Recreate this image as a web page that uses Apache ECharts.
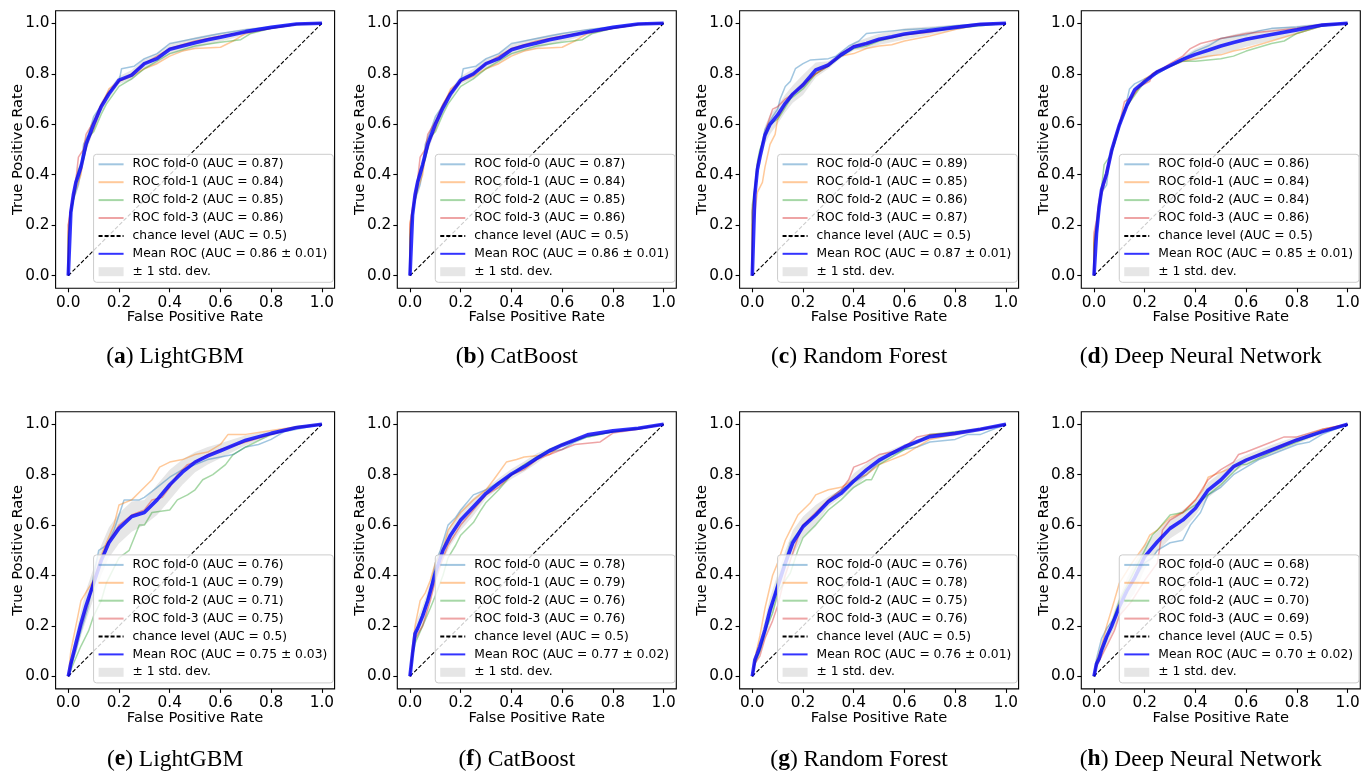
<!DOCTYPE html>
<html>
<head>
<meta charset="utf-8">
<script src="https://cdn.jsdelivr.net/npm/echarts/dist/echarts.min.js"></script>
<style>html,body{margin:0;padding:0;background:#fff}#c{width:1370px;height:774px}</style>
</head>
<body>
<div id="c"></div>
<script>
// ---------------- data ----------------
const TICKS = [0, 0.2, 0.4, 0.6, 0.8, 1.0];
const MODELS = ['LightGBM', 'CatBoost', 'Random Forest', 'Deep Neural Network'];
const LETTERS = ['a', 'b', 'c', 'd', 'e', 'f', 'g', 'h'];
const CHANCE_NAME = 'chance level (AUC = 0.5)';
const STD_NAME = '\u00B1 1 std. dev.';
const CHANCE_LINE = [[0, 0], [1, 1]];
const MEAN_FPR = [0, 0.01, 0.02, 0.03, 0.05, 0.07, 0.1, 0.13, 0.16, 0.2, 0.25, 0.3, 0.35, 0.4, 0.45, 0.5, 0.55, 0.6, 0.7, 0.8, 0.9, 1.0];

// (a) LightGBM
const aucA = ['0.87', '0.84', '0.85', '0.86']; const meanAucA = ['0.86', '0.01'];
const foldA0 = [[0,0],[0,0.17],[0.01,0.24],[0.02,0.3],[0.04,0.36],[0.05,0.42],[0.06,0.52],[0.08,0.56],[0.1,0.63],[0.12,0.66],[0.15,0.71],[0.2,0.77],[0.21,0.82],[0.26,0.83],[0.3,0.86],[0.35,0.88],[0.4,0.92],[0.5,0.94],[0.6,0.96],[0.7,0.975],[0.8,0.985],[0.9,0.998],[1,1]];
const foldA1 = [[0,0],[0,0.2],[0.01,0.26],[0.03,0.34],[0.05,0.4],[0.06,0.47],[0.08,0.54],[0.1,0.58],[0.13,0.67],[0.16,0.74],[0.2,0.77],[0.25,0.79],[0.3,0.82],[0.35,0.84],[0.4,0.87],[0.45,0.89],[0.5,0.9],[0.6,0.905],[0.65,0.93],[0.7,0.96],[0.8,0.98],[0.9,0.995],[1,1]];
const foldA2 = [[0,0],[0,0.15],[0.01,0.25],[0.03,0.35],[0.04,0.42],[0.06,0.46],[0.08,0.55],[0.1,0.57],[0.13,0.64],[0.15,0.68],[0.2,0.75],[0.25,0.78],[0.3,0.82],[0.35,0.85],[0.4,0.88],[0.5,0.91],[0.6,0.925],[0.68,0.935],[0.72,0.96],[0.8,0.98],[0.9,0.995],[1,1]];
const foldA3 = [[0,0],[0,0.2],[0.01,0.27],[0.03,0.38],[0.04,0.47],[0.06,0.5],[0.07,0.56],[0.1,0.61],[0.13,0.68],[0.16,0.73],[0.2,0.77],[0.25,0.8],[0.3,0.84],[0.35,0.87],[0.4,0.9],[0.5,0.93],[0.6,0.95],[0.7,0.965],[0.8,0.98],[0.87,0.99],[0.9,0.998],[1,1]];
const meanA = [0, 0.25, 0.32, 0.37, 0.43, 0.52, 0.60, 0.67, 0.72, 0.775, 0.795, 0.84, 0.86, 0.897, 0.91, 0.923, 0.935, 0.945, 0.967, 0.984, 0.997, 1];
const stdA = [0, 0.03, 0.03, 0.03, 0.03, 0.03, 0.025, 0.02, 0.02, 0.015, 0.02, 0.02, 0.02, 0.022, 0.022, 0.022, 0.02, 0.018, 0.012, 0.006, 0.003, 0];

// (b) CatBoost
const aucB = ['0.87', '0.84', '0.85', '0.86']; const meanAucB = ['0.86', '0.01'];
const foldB0 = [[0,0],[0,0.18],[0.01,0.24],[0.02,0.3],[0.04,0.36],[0.05,0.42],[0.06,0.52],[0.08,0.57],[0.1,0.63],[0.12,0.66],[0.15,0.71],[0.2,0.77],[0.21,0.82],[0.26,0.83],[0.3,0.86],[0.35,0.88],[0.4,0.92],[0.5,0.94],[0.6,0.96],[0.7,0.975],[0.8,0.985],[0.9,0.998],[1,1]];
const foldB1 = [[0,0],[0,0.21],[0.01,0.26],[0.03,0.34],[0.05,0.4],[0.06,0.47],[0.08,0.54],[0.1,0.58],[0.13,0.67],[0.16,0.74],[0.2,0.77],[0.25,0.79],[0.3,0.82],[0.35,0.84],[0.4,0.87],[0.45,0.89],[0.5,0.9],[0.6,0.905],[0.65,0.93],[0.7,0.96],[0.8,0.98],[0.9,0.995],[1,1]];
const foldB2 = [[0,0],[0,0.15],[0.01,0.25],[0.03,0.35],[0.04,0.42],[0.06,0.46],[0.08,0.55],[0.1,0.57],[0.13,0.64],[0.15,0.68],[0.2,0.75],[0.25,0.78],[0.3,0.82],[0.35,0.85],[0.4,0.88],[0.5,0.91],[0.6,0.925],[0.68,0.935],[0.72,0.96],[0.8,0.98],[0.9,0.995],[1,1]];
const foldB3 = [[0,0],[0,0.2],[0.01,0.27],[0.03,0.38],[0.04,0.47],[0.06,0.5],[0.07,0.56],[0.1,0.61],[0.13,0.68],[0.16,0.73],[0.2,0.77],[0.25,0.8],[0.3,0.84],[0.35,0.87],[0.4,0.9],[0.5,0.93],[0.6,0.95],[0.7,0.965],[0.8,0.98],[0.87,0.99],[0.9,0.998],[1,1]];
const meanB = [0, 0.24, 0.32, 0.37, 0.44, 0.52, 0.60, 0.665, 0.72, 0.775, 0.80, 0.84, 0.86, 0.895, 0.91, 0.922, 0.935, 0.945, 0.966, 0.984, 0.997, 1];
const stdB = [0, 0.03, 0.03, 0.03, 0.03, 0.03, 0.025, 0.02, 0.02, 0.015, 0.02, 0.02, 0.02, 0.022, 0.022, 0.022, 0.02, 0.018, 0.012, 0.006, 0.003, 0];

// (c) Random Forest
const aucC = ['0.89', '0.85', '0.86', '0.87']; const meanAucC = ['0.87', '0.01'];
const foldC0 = [[0,0],[0,0.25],[0.01,0.33],[0.02,0.42],[0.03,0.48],[0.05,0.58],[0.08,0.63],[0.1,0.66],[0.11,0.7],[0.13,0.75],[0.15,0.77],[0.17,0.82],[0.2,0.84],[0.23,0.855],[0.3,0.86],[0.33,0.87],[0.38,0.91],[0.42,0.93],[0.45,0.96],[0.5,0.965],[0.6,0.975],[0.7,0.98],[0.8,0.99],[0.9,0.998],[1,1]];
const foldC1 = [[0,0],[0,0.2],[0.01,0.25],[0.02,0.33],[0.04,0.37],[0.05,0.43],[0.07,0.52],[0.09,0.56],[0.1,0.62],[0.13,0.68],[0.16,0.72],[0.2,0.75],[0.25,0.8],[0.3,0.84],[0.35,0.87],[0.4,0.88],[0.45,0.9],[0.5,0.91],[0.55,0.915],[0.6,0.93],[0.7,0.95],[0.8,0.975],[0.9,0.995],[1,1]];
const foldC2 = [[0,0],[0,0.28],[0.01,0.35],[0.02,0.45],[0.03,0.5],[0.05,0.55],[0.07,0.6],[0.1,0.62],[0.12,0.65],[0.15,0.7],[0.2,0.74],[0.25,0.8],[0.3,0.83],[0.35,0.87],[0.4,0.9],[0.45,0.91],[0.5,0.93],[0.6,0.955],[0.7,0.97],[0.8,0.98],[0.9,0.99],[1,1]];
const foldC3 = [[0,0],[0,0.26],[0.01,0.34],[0.02,0.44],[0.04,0.52],[0.06,0.6],[0.08,0.66],[0.1,0.67],[0.13,0.7],[0.16,0.72],[0.2,0.76],[0.25,0.8],[0.3,0.83],[0.35,0.88],[0.4,0.91],[0.45,0.92],[0.5,0.935],[0.6,0.955],[0.7,0.965],[0.8,0.985],[0.9,0.997],[1,1]];
const meanC = [0, 0.32, 0.42, 0.47, 0.557, 0.60, 0.637, 0.683, 0.72, 0.756, 0.815, 0.835, 0.875, 0.907, 0.92, 0.937, 0.947, 0.958, 0.971, 0.984, 0.996, 1];
const stdC = [0, 0.035, 0.035, 0.035, 0.035, 0.04, 0.035, 0.035, 0.035, 0.04, 0.03, 0.015, 0.012, 0.015, 0.022, 0.022, 0.022, 0.022, 0.016, 0.01, 0.005, 0];

// (d) Deep Neural Network
const aucD = ['0.86', '0.84', '0.84', '0.86']; const meanAucD = ['0.85', '0.01'];
const foldD0 = [[0,0],[0,0.12],[0.01,0.17],[0.02,0.25],[0.03,0.33],[0.05,0.36],[0.06,0.45],[0.08,0.52],[0.1,0.6],[0.12,0.65],[0.14,0.74],[0.16,0.76],[0.2,0.78],[0.25,0.8],[0.3,0.83],[0.35,0.86],[0.4,0.89],[0.45,0.91],[0.5,0.94],[0.6,0.955],[0.65,0.97],[0.7,0.98],[0.8,0.985],[0.9,0.995],[1,1]];
const foldD1 = [[0,0],[0,0.15],[0.01,0.2],[0.02,0.28],[0.04,0.36],[0.06,0.44],[0.08,0.53],[0.1,0.6],[0.13,0.67],[0.16,0.72],[0.2,0.78],[0.25,0.81],[0.3,0.83],[0.35,0.85],[0.4,0.86],[0.45,0.87],[0.5,0.875],[0.55,0.89],[0.6,0.9],[0.7,0.93],[0.8,0.96],[0.9,0.99],[1,1]];
const foldD2 = [[0,0],[0,0.13],[0.01,0.19],[0.02,0.28],[0.03,0.35],[0.04,0.44],[0.06,0.47],[0.08,0.52],[0.1,0.59],[0.12,0.66],[0.15,0.7],[0.2,0.77],[0.25,0.81],[0.3,0.83],[0.35,0.85],[0.4,0.85],[0.45,0.855],[0.5,0.86],[0.55,0.87],[0.6,0.89],[0.7,0.92],[0.75,0.93],[0.8,0.96],[0.9,0.99],[1,1]];
const foldD3 = [[0,0],[0,0.17],[0.01,0.22],[0.02,0.3],[0.04,0.38],[0.06,0.46],[0.08,0.54],[0.1,0.6],[0.12,0.69],[0.15,0.71],[0.18,0.75],[0.22,0.77],[0.23,0.8],[0.27,0.82],[0.3,0.84],[0.35,0.87],[0.38,0.9],[0.42,0.92],[0.5,0.94],[0.6,0.96],[0.7,0.97],[0.8,0.98],[0.9,0.995],[1,1]];
const meanD = [0, 0.168, 0.27, 0.34, 0.405, 0.498, 0.597, 0.676, 0.736, 0.769, 0.808, 0.832, 0.857, 0.877, 0.893, 0.91, 0.924, 0.937, 0.956, 0.974, 0.993, 1];
const stdD = [0, 0.02, 0.02, 0.02, 0.018, 0.018, 0.012, 0.012, 0.014, 0.012, 0.01, 0.006, 0.012, 0.022, 0.028, 0.032, 0.032, 0.03, 0.024, 0.016, 0.008, 0];

// (e) LightGBM
const aucE = ['0.76', '0.79', '0.71', '0.75']; const meanAucE = ['0.75', '0.03'];
const foldE0 = [[0,0],[0.01,0.04],[0.03,0.1],[0.05,0.18],[0.08,0.28],[0.1,0.4],[0.12,0.5],[0.15,0.52],[0.18,0.58],[0.2,0.64],[0.22,0.7],[0.28,0.7],[0.3,0.71],[0.35,0.75],[0.4,0.79],[0.45,0.82],[0.5,0.84],[0.55,0.86],[0.6,0.87],[0.65,0.88],[0.7,0.91],[0.75,0.92],[0.8,0.94],[0.85,0.97],[0.9,0.98],[1,1]];
const foldE1 = [[0,0],[0.01,0.1],[0.02,0.15],[0.04,0.25],[0.05,0.3],[0.08,0.35],[0.1,0.38],[0.13,0.48],[0.15,0.53],[0.18,0.6],[0.2,0.68],[0.25,0.7],[0.3,0.75],[0.33,0.78],[0.36,0.83],[0.4,0.85],[0.45,0.86],[0.5,0.88],[0.55,0.89],[0.6,0.92],[0.63,0.96],[0.7,0.96],[0.8,0.975],[0.9,0.99],[1,1]];
const foldE2 = [[0,0],[0.02,0.05],[0.05,0.12],[0.08,0.18],[0.1,0.24],[0.13,0.3],[0.15,0.37],[0.18,0.43],[0.2,0.47],[0.24,0.5],[0.26,0.55],[0.28,0.6],[0.3,0.6],[0.33,0.65],[0.4,0.66],[0.43,0.7],[0.47,0.72],[0.5,0.74],[0.53,0.78],[0.57,0.8],[0.62,0.84],[0.65,0.88],[0.7,0.91],[0.8,0.96],[0.9,0.99],[1,1]];
const foldE3 = [[0,0],[0.01,0.05],[0.03,0.12],[0.05,0.2],[0.08,0.3],[0.1,0.38],[0.13,0.46],[0.15,0.52],[0.2,0.6],[0.25,0.64],[0.3,0.66],[0.33,0.7],[0.37,0.71],[0.4,0.75],[0.43,0.8],[0.47,0.84],[0.5,0.85],[0.55,0.88],[0.6,0.9],[0.7,0.93],[0.8,0.96],[0.9,0.985],[1,1]];
const meanE = [0, 0.05, 0.09, 0.13, 0.21, 0.28, 0.37, 0.46, 0.53, 0.587, 0.634, 0.65, 0.70, 0.76, 0.81, 0.85, 0.875, 0.895, 0.937, 0.964, 0.987, 1];
const stdE = [0, 0.02, 0.03, 0.04, 0.05, 0.06, 0.06, 0.06, 0.06, 0.06, 0.06, 0.05, 0.06, 0.06, 0.05, 0.04, 0.035, 0.03, 0.02, 0.01, 0.005, 0];

// (f) CatBoost
const aucF = ['0.78', '0.79', '0.76', '0.76']; const meanAucF = ['0.77', '0.02'];
const foldF0 = [[0,0],[0.01,0.1],[0.02,0.16],[0.04,0.22],[0.06,0.28],[0.08,0.34],[0.1,0.45],[0.12,0.5],[0.15,0.6],[0.18,0.63],[0.2,0.66],[0.25,0.72],[0.3,0.74],[0.35,0.77],[0.4,0.8],[0.45,0.83],[0.5,0.86],[0.55,0.89],[0.6,0.9],[0.65,0.93],[0.7,0.95],[0.8,0.97],[0.9,0.98],[1,1]];
const foldF1 = [[0,0],[0.01,0.12],[0.02,0.2],[0.04,0.3],[0.06,0.33],[0.08,0.38],[0.1,0.45],[0.13,0.5],[0.15,0.58],[0.2,0.65],[0.25,0.7],[0.3,0.74],[0.33,0.78],[0.38,0.85],[0.42,0.86],[0.45,0.87],[0.5,0.875],[0.55,0.88],[0.6,0.92],[0.65,0.94],[0.7,0.955],[0.8,0.97],[0.9,0.985],[1,1]];
const foldF2 = [[0,0],[0.01,0.08],[0.02,0.13],[0.05,0.2],[0.08,0.27],[0.1,0.32],[0.13,0.4],[0.15,0.47],[0.18,0.52],[0.2,0.56],[0.25,0.61],[0.28,0.66],[0.3,0.69],[0.35,0.74],[0.4,0.8],[0.45,0.84],[0.5,0.87],[0.55,0.9],[0.6,0.92],[0.7,0.95],[0.8,0.97],[0.9,0.985],[1,1]];
const foldF3 = [[0,0],[0.01,0.09],[0.02,0.15],[0.05,0.2],[0.08,0.3],[0.1,0.38],[0.13,0.47],[0.15,0.52],[0.2,0.6],[0.25,0.66],[0.3,0.72],[0.35,0.75],[0.4,0.8],[0.45,0.82],[0.5,0.86],[0.55,0.88],[0.6,0.9],[0.65,0.92],[0.75,0.93],[0.8,0.965],[0.9,0.98],[1,1]];
const meanF = [0, 0.09, 0.17, 0.19, 0.24, 0.30, 0.41, 0.50, 0.56, 0.62, 0.673, 0.726, 0.766, 0.803, 0.832, 0.865, 0.895, 0.918, 0.958, 0.974, 0.984, 1];
const stdF = [0, 0.03, 0.03, 0.04, 0.04, 0.04, 0.04, 0.04, 0.04, 0.04, 0.035, 0.02, 0.02, 0.02, 0.02, 0.02, 0.01, 0.01, 0.008, 0.005, 0.003, 0];

// (g) Random Forest
const aucG = ['0.76', '0.78', '0.75', '0.76']; const meanAucG = ['0.76', '0.01'];
const foldG0 = [[0,0],[0.01,0.06],[0.03,0.1],[0.05,0.17],[0.08,0.28],[0.1,0.38],[0.13,0.46],[0.15,0.53],[0.18,0.57],[0.2,0.6],[0.25,0.64],[0.3,0.7],[0.35,0.74],[0.4,0.77],[0.45,0.8],[0.5,0.85],[0.55,0.88],[0.6,0.9],[0.65,0.91],[0.7,0.93],[0.8,0.94],[0.85,0.96],[0.9,0.96],[1,1]];
const foldG1 = [[0,0],[0.01,0.07],[0.03,0.16],[0.05,0.27],[0.08,0.4],[0.1,0.45],[0.13,0.54],[0.15,0.58],[0.18,0.64],[0.2,0.66],[0.23,0.69],[0.25,0.72],[0.3,0.74],[0.35,0.75],[0.4,0.78],[0.45,0.8],[0.5,0.84],[0.55,0.86],[0.6,0.88],[0.65,0.91],[0.7,0.94],[0.8,0.96],[0.9,0.98],[1,1]];
const foldG2 = [[0,0],[0.01,0.05],[0.03,0.1],[0.05,0.18],[0.08,0.25],[0.1,0.33],[0.13,0.38],[0.15,0.41],[0.18,0.5],[0.2,0.55],[0.25,0.6],[0.3,0.66],[0.35,0.7],[0.4,0.75],[0.45,0.78],[0.47,0.78],[0.5,0.84],[0.55,0.87],[0.6,0.9],[0.7,0.96],[0.8,0.97],[0.9,0.98],[1,1]];
const foldG3 = [[0,0],[0.01,0.05],[0.03,0.08],[0.05,0.15],[0.08,0.22],[0.1,0.28],[0.13,0.4],[0.15,0.46],[0.18,0.55],[0.2,0.6],[0.25,0.65],[0.3,0.7],[0.35,0.74],[0.38,0.78],[0.4,0.83],[0.45,0.85],[0.5,0.88],[0.55,0.89],[0.6,0.91],[0.65,0.95],[0.7,0.96],[0.8,0.965],[0.9,0.98],[1,1]];
const meanG = [0, 0.065, 0.09, 0.118, 0.184, 0.263, 0.356, 0.448, 0.53, 0.594, 0.64, 0.693, 0.726, 0.775, 0.819, 0.858, 0.885, 0.911, 0.951, 0.964, 0.98, 1];
const stdG = [0, 0.02, 0.03, 0.03, 0.04, 0.05, 0.05, 0.05, 0.05, 0.04, 0.04, 0.02, 0.015, 0.03, 0.025, 0.02, 0.015, 0.01, 0.01, 0.01, 0.008, 0];

// (h) Deep Neural Network
const aucH = ['0.68', '0.72', '0.70', '0.69']; const meanAucH = ['0.70', '0.02'];
const foldH0 = [[0,0],[0.01,0.07],[0.03,0.15],[0.05,0.19],[0.08,0.23],[0.1,0.28],[0.15,0.37],[0.2,0.45],[0.23,0.47],[0.25,0.5],[0.3,0.53],[0.35,0.54],[0.38,0.6],[0.42,0.65],[0.45,0.72],[0.5,0.75],[0.55,0.8],[0.6,0.83],[0.65,0.86],[0.7,0.88],[0.8,0.92],[0.85,0.93],[0.9,0.96],[1,1]];
const foldH1 = [[0,0],[0.01,0.06],[0.03,0.12],[0.05,0.2],[0.08,0.3],[0.1,0.37],[0.15,0.45],[0.2,0.52],[0.22,0.56],[0.25,0.58],[0.3,0.63],[0.35,0.65],[0.4,0.7],[0.43,0.74],[0.45,0.79],[0.5,0.81],[0.55,0.83],[0.6,0.86],[0.7,0.9],[0.8,0.94],[0.9,0.98],[1,1]];
const foldH2 = [[0,0],[0.01,0.05],[0.03,0.1],[0.05,0.15],[0.08,0.24],[0.1,0.3],[0.15,0.4],[0.2,0.5],[0.23,0.56],[0.25,0.58],[0.3,0.64],[0.35,0.65],[0.4,0.68],[0.45,0.72],[0.5,0.76],[0.55,0.81],[0.58,0.84],[0.6,0.84],[0.7,0.89],[0.8,0.93],[0.9,0.97],[1,1]];
const foldH3 = [[0,0],[0.01,0.04],[0.03,0.08],[0.05,0.12],[0.08,0.18],[0.1,0.24],[0.15,0.3],[0.2,0.38],[0.25,0.45],[0.27,0.58],[0.3,0.62],[0.35,0.65],[0.4,0.7],[0.45,0.78],[0.5,0.82],[0.55,0.85],[0.57,0.88],[0.6,0.89],[0.65,0.91],[0.7,0.93],[0.75,0.95],[0.8,0.95],[0.9,0.98],[1,1]];
const meanH = [0, 0.05, 0.07, 0.104, 0.157, 0.2, 0.276, 0.34, 0.39, 0.475, 0.534, 0.587, 0.62, 0.667, 0.739, 0.779, 0.832, 0.858, 0.898, 0.938, 0.971, 1];
const stdH = [0, 0.02, 0.02, 0.03, 0.03, 0.03, 0.04, 0.05, 0.06, 0.05, 0.04, 0.04, 0.04, 0.03, 0.03, 0.03, 0.02, 0.02, 0.02, 0.015, 0.01, 0];

// ---------------- assembly ----------------
const PANELS = [
  { folds: [foldA0, foldA1, foldA2, foldA3], auc: aucA, meanAuc: meanAucA, mean: meanA, std: stdA },
  { folds: [foldB0, foldB1, foldB2, foldB3], auc: aucB, meanAuc: meanAucB, mean: meanB, std: stdB },
  { folds: [foldC0, foldC1, foldC2, foldC3], auc: aucC, meanAuc: meanAucC, mean: meanC, std: stdC },
  { folds: [foldD0, foldD1, foldD2, foldD3], auc: aucD, meanAuc: meanAucD, mean: meanD, std: stdD },
  { folds: [foldE0, foldE1, foldE2, foldE3], auc: aucE, meanAuc: meanAucE, mean: meanE, std: stdE },
  { folds: [foldF0, foldF1, foldF2, foldF3], auc: aucF, meanAuc: meanAucF, mean: meanF, std: stdF },
  { folds: [foldG0, foldG1, foldG2, foldG3], auc: aucG, meanAuc: meanAucG, mean: meanG, std: stdG },
  { folds: [foldH0, foldH1, foldH2, foldH3], auc: aucH, meanAuc: meanAucH, mean: meanH, std: stdH }
];

const W = 1370, H = 774;
const FONT = 'DejaVu Sans';
const SERIF = 'Liberation Serif';
const FOLD_COLORS = ['#1f77b4', '#ff7f0e', '#2ca02c', '#d62728'];
const MEAN_COLOR = 'rgba(0,0,255,0.8)';
const BAND_COLOR = 'rgba(128,128,128,0.2)';
const GRID_LEFTS = [55.6, 397.3, 739.6, 1081.3];
const GRID_W = 279;
const ROW_TOPS = [10.7, 411.7];
const ROW_H = [277.6, 277.2];
const CAPTION_TOPS = [345.5, 747.9];
const TICK_FS = 15.3, NAME_FS = 14.7, LEG_FS = 12.3;

const grids = [], xAxes = [], yAxes = [], series = [], legends = [], titles = [];

PANELS.forEach((p, gi) => {
  const col = gi % 4, row = Math.floor(gi / 4);
  const left = GRID_LEFTS[col], top = ROW_TOPS[row], h = ROW_H[row];
  grids.push({ left: left, top: top, width: GRID_W, height: h, show: true,
    borderColor: '#000', borderWidth: 1.1, backgroundColor: 'transparent',
    containLabel: false, outerBoundsMode: 'none' });
  const common = {
    gridIndex: gi, type: 'value', min: -0.05, max: 1.05,
    nameLocation: 'middle', nameMoveOverlap: false,
    nameTextStyle: { fontFamily: FONT, fontSize: NAME_FS, color: '#000', lineHeight: 16 },
    axisLine: { show: false, onZero: false },
    axisTick: { show: true, customValues: TICKS, inside: false, length: 4, lineStyle: { color: '#000', width: 1.1 } },
    axisLabel: { customValues: TICKS, fontFamily: FONT, fontSize: TICK_FS, color: '#000',
      formatter: v => Number(v).toFixed(1) },
    splitLine: { show: false }
  };
  xAxes.push(Object.assign({}, common, { name: 'False Positive Rate', nameGap: 21, position: 'bottom',
    axisLabel: Object.assign({}, common.axisLabel, { margin: 7 }) }));
  yAxes.push(Object.assign({}, common, { name: 'True Positive Rate', nameGap: 29, position: 'left',
    axisLabel: Object.assign({}, common.axisLabel, { margin: 6 }) }));

  const names = [];
  p.folds.forEach((f, k) => {
    const nm = 'ROC fold-' + k + ' (AUC = ' + p.auc[k] + ')';
    names.push(nm);
    series.push({ type: 'line', name: nm, xAxisIndex: gi, yAxisIndex: gi, data: f,
      symbol: 'none', silent: true, lineStyle: { color: FOLD_COLORS[k], width: 1.5, opacity: 0.42 },
      itemStyle: { color: FOLD_COLORS[k] } });
  });
  names.push(CHANCE_NAME);
  series.push({ type: 'line', name: CHANCE_NAME, xAxisIndex: gi, yAxisIndex: gi, data: CHANCE_LINE,
    symbol: 'none', silent: true, lineStyle: { color: '#000', width: 1.1, type: [4, 2] },
    itemStyle: { color: '#000' } });
  const meanName = 'Mean ROC (AUC = ' + p.meanAuc[0] + ' \u00B1 ' + p.meanAuc[1] + ')';
  names.push(meanName);
  series.push({ type: 'line', name: meanName, xAxisIndex: gi, yAxisIndex: gi,
    data: MEAN_FPR.map((x, i) => [x, p.mean[i]]),
    symbol: 'none', silent: true, lineStyle: { color: MEAN_COLOR, width: 3.6 },
    itemStyle: { color: MEAN_COLOR } });
  series.push({ type: 'custom', name: STD_NAME, xAxisIndex: gi, yAxisIndex: gi,
    silent: true, itemStyle: { color: BAND_COLOR },
    data: [[0, 0]],
    renderItem: function (params, api) {
      const up = [], lo = [];
      for (let i = 0; i < MEAN_FPR.length; i++) {
        up.push(api.coord([MEAN_FPR[i], Math.min(p.mean[i] + p.std[i], 1)]));
        lo.push(api.coord([MEAN_FPR[i], Math.max(p.mean[i] - p.std[i], 0)]));
      }
      return { type: 'polygon', shape: { points: up.concat(lo.reverse()) }, style: { fill: BAND_COLOR } };
    } });

  const legData = names.map(n => ({ name: n }));
  legData.push({ name: STD_NAME, icon: 'rect', itemStyle: { opacity: 1, color: BAND_COLOR } });
  legends.push({
    orient: 'vertical', selectedMode: false,
    right: W - (left + GRID_W) + 1.3,
    bottom: H - (top + h) + 6,
    data: legData,
    itemWidth: 25, itemHeight: 9, itemGap: 3.9,
    padding: [3, 6, 3.6, 4],
    backgroundColor: 'rgba(255,255,255,0.8)', borderColor: '#cccccc', borderWidth: 1, borderRadius: 3,
    itemStyle: { opacity: 0 },
    textStyle: { fontFamily: FONT, fontSize: LEG_FS, color: '#000', lineHeight: 14, padding: [0, 0, 0, 4] }
  });

  titles.push({
    text: '({b|' + LETTERS[gi] + '}) ' + MODELS[col],
    left: left + GRID_W / 2 - 20, top: CAPTION_TOPS[row], textAlign: 'center', padding: 0,
    textStyle: { fontFamily: SERIF, fontSize: 23.5, fontWeight: 'normal', color: '#000', lineHeight: 23,
      rich: { b: { fontFamily: SERIF, fontSize: 23.5, fontWeight: 'bold', color: '#000', lineHeight: 23 } } }
  });
});

const chart = echarts.init(document.getElementById('c'), null, { renderer: 'canvas', width: W, height: H });
chart.setOption({
  animation: false,
  backgroundColor: '#fff',
  title: titles,
  grid: grids,
  xAxis: xAxes,
  yAxis: yAxes,
  legend: legends,
  series: series
});
</script>
</body>
</html>
